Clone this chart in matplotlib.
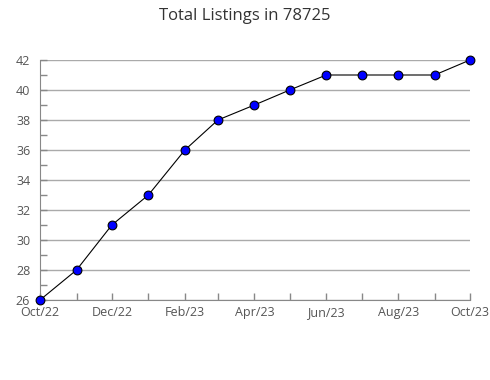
import matplotlib
matplotlib.use("Agg")
import matplotlib.pyplot as plt
import matplotlib.dates as mdates
import pandas as pd

months = pd.date_range("2022-10-01", "2023-10-01", freq="MS")
listings = [26, 28, 31, 33, 36, 38, 39, 40, 41, 41, 41, 41, 42]
title = "Total Listings in 78725"

plt.rcParams['font.family'] = ['Open Sans', 'DejaVu Sans']

fig = plt.figure(figsize=(4.9, 3.8), dpi=100)
ax = fig.add_axes([40/490, 1-300/380, 430/490, 240/380])

ax.plot(months, listings, color='black', linewidth=0.8, marker='o',
        markersize=6.3, markerfacecolor='#0000ff', markeredgecolor='black',
        markeredgewidth=0.8, zorder=3, clip_on=False)

ax.set_xlim(months[0], months[-1])
ax.set_ylim(26, 42)
ax.set_yticks(range(26, 43, 2))
ax.set_yticks(range(27, 42, 2), minor=True)
ax.grid(axis='y', color='#aaaaaa', linewidth=1)
ax.set_axisbelow(True)

ax.xaxis.set_major_locator(mdates.MonthLocator(bymonth=[2, 4, 6, 8, 10, 12]))
ax.xaxis.set_major_formatter(mdates.DateFormatter('%b/%y'))
ax.xaxis.set_minor_locator(mdates.MonthLocator())

for s in ['top', 'right']:
    ax.spines[s].set_visible(False)
for s in ['left', 'bottom']:
    ax.spines[s].set_color('#888888')

ax.tick_params(axis='both', which='both', colors='#888888', labelcolor='#555555',
               labelsize=9, length=5, width=1)
ax.tick_params(axis='x', which='both', direction='in', pad=4.5)
ax.tick_params(axis='y', which='both', direction='in', pad=7)

fig.suptitle(title, y=1-16/380, va='center', fontsize=12, color='#333333')
fig.savefig("out.png", dpi=100)
